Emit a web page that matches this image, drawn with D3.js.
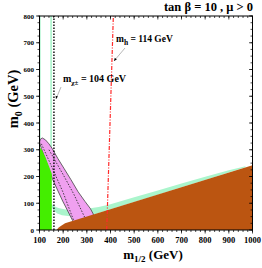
<!DOCTYPE html>
<html><head><meta charset="utf-8">
<script src="https://cdn.jsdelivr.net/npm/d3@7"></script>
<style>
body{margin:0;background:#fff}
svg{display:block}
text{font-family:"Liberation Serif","Times New Roman",serif;font-weight:bold;fill:#000}
</style>
</head><body>
<svg id="c" width="262" height="268"></svg>
<script>
// ---- data (GeV) ----
const xTicks = [100,200,300,400,500,600,700,800,900,1000];
const yTicks = [0,100,200,300,400,500,600,700,800];
const xMinor = d3.range(100, 1001, 20);
const yMinor = d3.range(0, 801, 25);

const greenRegion = [[100,0],[100,310],[110,300],[125,272],[140,238],[152,210],[152,0]];
const pinkRegion = [[101,330],[104,340],[112,344],[125,337],[140,322],[154,304],[177,268],[203,231],[233,188],[263,143],[292,107],[315,80],[327,60],[334,30],[262,5],[239,37],[198,108],[156,188],[128,255],[108,305],[101,325]];
const pinkDotA = [[108,322],[150,240],[200,140],[236,55],[245,35]];
const pinkDotB = [[140,300],[200,207],[245,134],[282,64],[294,42]];
const mintUpper = [[148,100],[160,90],[180,82],[210,77],[250,76],[300,79],[350,86],[400,96],[500,122],[600,148],[700,174],[800,199],[900,223],[970,238]];
const mintLower = [[970,235],[900,215],[800,187],[700,160],[600,132],[500,105],[400,78],[300,50],[280,46],[250,50],[220,52],[195,55],[175,62],[158,75],[150,88]];
const brownRegion = [[172,0],[180,8],[190,15],[200,21],[208,25],[1000,242],[1000,0]];
const charginoLine = [[161,0],[161,800]];
const higgsLine = [[384,0],[412,800]];
const mintLineMid = [[149,215],[149,800]];
const mintLineLeft = [[101.5,310],[101.5,800]];

// ---- layout ----
const svg = d3.select("#c");
const x = d3.scaleLinear().domain([100,1000]).range([39.5,252.5]);
const y = d3.scaleLinear().domain([0,800]).range([230,16]);
const line = d3.line().x(d=>x(d[0])).y(d=>y(d[1]));

svg.append("clipPath").attr("id","clip").append("rect")
  .attr("x",x(100)).attr("y",y(800)).attr("width",x(1000)-x(100)).attr("height",y(0)-y(800));
const g = svg.append("g").attr("clip-path","url(#clip)");

g.append("path").attr("d",line(mintUpper.concat(mintLower))+"Z").attr("fill","#aaf5cc");
g.append("path").attr("d",line(mintLineMid)).attr("stroke","#aaf5cc").attr("stroke-width",1.6).attr("fill","none");
g.append("path").attr("d",line(mintLineLeft)).attr("stroke","#aaf5cc").attr("stroke-width",1.6).attr("fill","none");
g.append("path").attr("d",line(pinkRegion)+"Z").attr("fill","#f0a0f0").attr("stroke","#444").attr("stroke-width",0.8);
g.append("path").attr("d",line(pinkDotA)).attr("fill","none").attr("stroke","#333").attr("stroke-width",0.9).attr("stroke-dasharray","1.5,1.5");
g.append("path").attr("d",line(pinkDotB)).attr("fill","none").attr("stroke","#333").attr("stroke-width",0.9).attr("stroke-dasharray","1.5,1.5");
g.append("path").attr("d",line(greenRegion)+"Z").attr("fill","#44ee00");
g.append("path").attr("d",line(brownRegion)+"Z").attr("fill","#bb5511");
g.append("path").attr("d",line(charginoLine)).attr("fill","none").attr("stroke","#000").attr("stroke-width",1.4).attr("stroke-dasharray","1.6,1.4");
g.append("path").attr("d",line(higgsLine)).attr("fill","none").attr("stroke","#ff2a2a").attr("stroke-width",1.2).attr("stroke-dasharray","4,1.5,1,1.5");

// ---- axes ----
const ax = svg.append("g");
ax.append("rect").attr("x",x(100)).attr("y",y(800)).attr("width",x(1000)-x(100)).attr("height",y(0)-y(800))
  .attr("fill","none").attr("stroke","#000").attr("stroke-width",1);
function ticks(vals, len, side){
  vals.forEach(v=>{
    if(side==="b") ax.append("line").attr("x1",x(v)).attr("x2",x(v)).attr("y1",y(0)).attr("y2",y(0)+len);
    if(side==="t") ax.append("line").attr("x1",x(v)).attr("x2",x(v)).attr("y1",y(800)).attr("y2",y(800)+len);
    if(side==="l") ax.append("line").attr("y1",y(v)).attr("y2",y(v)).attr("x1",x(100)).attr("x2",x(100)-len);
    if(side==="r") ax.append("line").attr("y1",y(v)).attr("y2",y(v)).attr("x1",x(1000)).attr("x2",x(1000)-len);
  });
}
ticks(xMinor,2,"b"); ticks(xTicks,3.5,"b");
ticks(xMinor,2,"t"); ticks(xTicks,3.5,"t");
ticks(yMinor,2,"l"); ticks(yTicks,3.5,"l");
ticks(yMinor,2,"r"); ticks(yTicks,3.5,"r");
ax.selectAll("line").attr("stroke","#000").attr("stroke-width",0.7);

svg.append("g").selectAll("text").data(xTicks).join("text")
  .attr("x",d=>x(d)).attr("y",243).attr("text-anchor","middle").attr("font-size",8.5).text(d=>d);
svg.append("g").selectAll("text").data(yTicks).join("text")
  .attr("x",34).attr("y",d=>y(d)+2.5).attr("text-anchor","end").attr("font-size",7).text(d=>d);

// ---- labels ----
const xl = svg.append("text").attr("x",153).attr("y",259).attr("text-anchor","middle").attr("font-size",13);
xl.append("tspan").text("m");
xl.append("tspan").attr("font-size",9).attr("dy",3).text("1/2");
xl.append("tspan").attr("dy",-3).text(" (GeV)");

const yl = svg.append("text").attr("transform","translate(18,99) rotate(-90)").attr("text-anchor","middle").attr("font-size",14.5);
yl.append("tspan").text("m");
yl.append("tspan").attr("font-size",10).attr("dy",3.5).text("0");
yl.append("tspan").attr("dy",-3.5).text(" (GeV)");

svg.append("text").attr("x",253).attr("y",11).attr("text-anchor","end").attr("font-size",12.5).text("tan β = 10 ,  μ > 0");

const th = svg.append("text").attr("x",116).attr("y",42).attr("font-size",9.5);
th.append("tspan").text("m");
th.append("tspan").attr("font-size",7.5).attr("dy",2.5).text("h");
th.append("tspan").attr("dy",-2.5).text("  = 114 GeV");
svg.append("line").attr("x1",125).attr("y1",48).attr("x2",114).attr("y2",61).attr("stroke","#888").attr("stroke-width",0.6);
svg.append("path").attr("d","M114,61 l0.8,-3.2 l2,1.6 Z").attr("fill","#000");

const tc = svg.append("text").attr("x",63).attr("y",82).attr("font-size",10);
tc.append("tspan").text("m");
tc.append("tspan").attr("font-size",7).attr("dy",2.5).text("χ±");
tc.append("tspan").attr("dy",-2.5).text(" = 104 GeV");
svg.append("line").attr("x1",61).attr("y1",87).attr("x2",56).attr("y2",99).attr("stroke","#888").attr("stroke-width",0.6);
svg.append("path").attr("d","M56,99 l-0.4,-3.3 l2.3,0.9 Z").attr("fill","#000");
</script>
</body></html>
